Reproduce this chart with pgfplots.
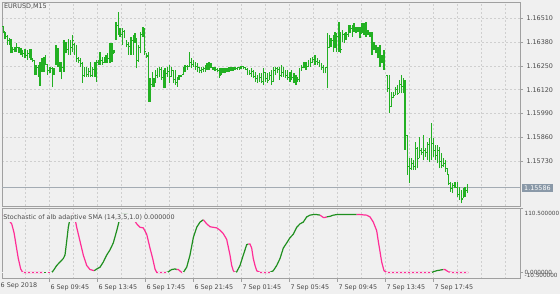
\documentclass[border=0pt]{standalone}
\usepackage{pgfplots}
\pgfplotsset{compat=1.18}
\usepackage{pgfplotstable}
\usepackage{fontspec}
\setmainfont{DejaVu Sans}
\definecolor{bg}{HTML}{F0F0F0}
\definecolor{gridc}{HTML}{CFCFCF}
\definecolor{framec}{HTML}{A0A0A0}
\definecolor{barc}{HTML}{22B022}
\definecolor{upc}{HTML}{1F8F1F}
\definecolor{dnc}{HTML}{FF2D96}
\definecolor{pricebox}{HTML}{8A99A8}
\definecolor{pricel}{HTML}{A3ABB3}
\definecolor{txt}{HTML}{4A4A4A}

\pgfdeclareplotmark{ohlcopen}{\pgfpathmoveto{\pgfqpoint{-1.1pt}{0pt}}\pgfpathlineto{\pgfqpoint{0pt}{0pt}}\pgfusepathqstroke}
\pgfdeclareplotmark{ohlcclose}{\pgfpathmoveto{\pgfqpoint{0pt}{0pt}}\pgfpathlineto{\pgfqpoint{1.1pt}{0pt}}\pgfusepathqstroke}

\pgfplotstableread{
x h l o c
3.3 1.16468 1.16428 1.16468 1.16440
5.0 1.16437 1.16395 1.16437 1.16410
7.3 1.16419 1.16365 1.16410 1.16392
9.3 1.16401 1.16365 1.16392 1.16374
11.0 1.16395 1.16319 1.16374 1.16346
12.7 1.16355 1.16323 1.16346 1.16340
15.0 1.16355 1.16328 1.16340 1.16346
16.7 1.16374 1.16328 1.16346 1.16350
19.0 1.16355 1.16323 1.16350 1.16337
21.0 1.16346 1.16310 1.16337 1.16328
22.7 1.16337 1.16301 1.16328 1.16319
25.0 1.16341 1.16292 1.16319 1.16310
27.3 1.16337 1.16283 1.16310 1.16319
29.3 1.16341 1.16292 1.16319 1.16305
31.0 1.16341 1.16283 1.16305 1.16290
32.7 1.16292 1.16274 1.16290 1.16280
34.3 1.16283 1.16201 1.16280 1.16219
36.0 1.16256 1.16201 1.16219 1.16240
38.3 1.16256 1.16192 1.16240 1.16210
40.0 1.16274 1.16141 1.16210 1.16250
42.0 1.16292 1.16219 1.16250 1.16270
44.0 1.16301 1.16219 1.16270 1.16285
45.7 1.16310 1.16256 1.16285 1.16260
47.7 1.16256 1.16201 1.16256 1.16225
50.0 1.16246 1.16210 1.16225 1.16235
52.3 1.16246 1.16134 1.16235 1.16210
54.0 1.16237 1.16201 1.16210 1.16225
56.0 1.16365 1.16256 1.16256 1.16340
58.0 1.16346 1.16246 1.16340 1.16300
60.0 1.16274 1.16219 1.16270 1.16230
61.7 1.16274 1.16177 1.16230 1.16240
64.0 1.16392 1.16219 1.16240 1.16370
66.0 1.16383 1.16319 1.16370 1.16340
68.3 1.16395 1.16310 1.16340 1.16380
70.7 1.16392 1.16310 1.16380 1.16350
72.7 1.16419 1.16328 1.16350 1.16390
74.3 1.16374 1.16310 1.16370 1.16340
76.7 1.16365 1.16274 1.16340 1.16290
78.7 1.16301 1.16265 1.16290 1.16280
80.7 1.16292 1.16246 1.16280 1.16265
82.3 1.16274 1.16159 1.16265 1.16200
84.3 1.16246 1.16192 1.16200 1.16225
86.7 1.16246 1.16192 1.16225 1.16205
88.7 1.16237 1.16192 1.16205 1.16220
90.7 1.16274 1.16192 1.16220 1.16200
92.7 1.16246 1.16192 1.16200 1.16230
95.0 1.16274 1.16192 1.16230 1.16210
96.7 1.16283 1.16165 1.16210 1.16270
98.3 1.16283 1.16256 1.16270 1.16265
100.0 1.16328 1.16256 1.16265 1.16280
102.3 1.16301 1.16256 1.16280 1.16270
104.3 1.16301 1.16265 1.16270 1.16285
106.0 1.16310 1.16265 1.16285 1.16275
107.7 1.16319 1.16265 1.16275 1.16290
110.0 1.16374 1.16265 1.16290 1.16340
112.0 1.16374 1.16274 1.16340 1.16300
114.0 1.16337 1.16319 1.16320 1.16330
116.0 1.16492 1.16392 1.16400 1.16470
118.3 1.16546 1.16419 1.16470 1.16450
120.0 1.16455 1.16410 1.16450 1.16420
122.3 1.16455 1.16365 1.16420 1.16440
124.3 1.16446 1.16401 1.16440 1.16410
126.7 1.16392 1.16355 1.16390 1.16370
128.7 1.16383 1.16310 1.16370 1.16355
131.0 1.16410 1.16310 1.16355 1.16390
133.3 1.16419 1.16310 1.16390 1.16400
135.0 1.16428 1.16374 1.16400 1.16410
136.7 1.16401 1.16237 1.16400 1.16280
138.7 1.16365 1.16274 1.16280 1.16350
140.7 1.16437 1.16319 1.16350 1.16420
143.0 1.16465 1.16410 1.16420 1.16440
144.7 1.16455 1.16310 1.16440 1.16330
146.7 1.16319 1.16292 1.16310 1.16300
148.3 1.16328 1.16056 1.16310 1.16090
150.0 1.16183 1.16056 1.16090 1.16150
152.3 1.16219 1.16137 1.16150 1.16190
154.0 1.16183 1.16137 1.16183 1.16160
155.7 1.16228 1.16156 1.16160 1.16200
157.3 1.16237 1.16183 1.16200 1.16220
159.7 1.16246 1.16192 1.16220 1.16230
161.7 1.16246 1.16174 1.16230 1.16190
163.3 1.16228 1.16128 1.16190 1.16160
165.0 1.16237 1.16128 1.16160 1.16210
167.3 1.16246 1.16192 1.16210 1.16220
169.3 1.16256 1.16156 1.16220 1.16170
171.3 1.16246 1.16192 1.16192 1.16225
173.3 1.16228 1.16156 1.16225 1.16175
175.3 1.16228 1.16146 1.16175 1.16160
177.3 1.16192 1.16137 1.16160 1.16170
179.0 1.16201 1.16174 1.16180 1.16190
181.0 1.16201 1.16192 1.16195 1.16198
183.3 1.16246 1.16201 1.16205 1.16235
185.0 1.16256 1.16219 1.16235 1.16245
187.3 1.16256 1.16228 1.16245 1.16240
189.3 1.16328 1.16246 1.16250 1.16270
191.3 1.16292 1.16237 1.16270 1.16260
193.3 1.16283 1.16246 1.16260 1.16270
195.7 1.16274 1.16228 1.16270 1.16250
197.7 1.16265 1.16219 1.16250 1.16240
199.3 1.16246 1.16210 1.16240 1.16225
201.3 1.16246 1.16210 1.16225 1.16230
203.3 1.16246 1.16219 1.16230 1.16235
205.3 1.16256 1.16219 1.16235 1.16240
207.0 1.16265 1.16228 1.16240 1.16250
209.0 1.16274 1.16228 1.16250 1.16245
211.0 1.16265 1.16237 1.16245 1.16250
213.0 1.16246 1.16228 1.16240 1.16235
215.0 1.16246 1.16225 1.16235 1.16232
217.3 1.16237 1.16219 1.16230 1.16225
219.3 1.16237 1.16183 1.16225 1.16200
221.0 1.16237 1.16201 1.16201 1.16220
223.0 1.16237 1.16210 1.16220 1.16225
225.0 1.16237 1.16210 1.16225 1.16228
227.0 1.16237 1.16219 1.16228 1.16230
229.0 1.16246 1.16219 1.16230 1.16235
231.0 1.16246 1.16225 1.16235 1.16238
233.0 1.16246 1.16225 1.16238 1.16240
235.0 1.16246 1.16228 1.16240 1.16238
237.3 1.16246 1.16228 1.16238 1.16240
239.3 1.16246 1.16228 1.16240 1.16243
241.0 1.16250 1.16232 1.16243 1.16245
243.3 1.16250 1.16232 1.16245 1.16240
245.3 1.16246 1.16228 1.16240 1.16232
247.3 1.16237 1.16201 1.16232 1.16215
249.7 1.16228 1.16201 1.16215 1.16210
251.7 1.16237 1.16192 1.16210 1.16220
253.7 1.16228 1.16183 1.16220 1.16195
255.7 1.16219 1.16165 1.16195 1.16180
257.3 1.16201 1.16156 1.16180 1.16170
259.7 1.16210 1.16165 1.16170 1.16190
261.7 1.16210 1.16156 1.16190 1.16165
263.7 1.16237 1.16146 1.16165 1.16215
265.7 1.16219 1.16165 1.16215 1.16180
267.7 1.16210 1.16156 1.16180 1.16170
269.7 1.16219 1.16174 1.16174 1.16200
271.7 1.16228 1.16146 1.16200 1.16165
273.7 1.16246 1.16165 1.16165 1.16225
275.7 1.16246 1.16201 1.16225 1.16235
277.7 1.16246 1.16210 1.16235 1.16230
279.3 1.16246 1.16174 1.16230 1.16200
281.3 1.16256 1.16192 1.16200 1.16215
283.3 1.16246 1.16192 1.16215 1.16215
285.7 1.16228 1.16183 1.16215 1.16200
287.7 1.16228 1.16174 1.16200 1.16190
290.0 1.16219 1.16165 1.16190 1.16200
291.7 1.16228 1.16174 1.16200 1.16185
294.0 1.16210 1.16156 1.16185 1.16170
296.0 1.16201 1.16146 1.16170 1.16160
297.7 1.16192 1.16165 1.16165 1.16175
299.3 1.16237 1.16165 1.16175 1.16228
301.7 1.16256 1.16228 1.16228 1.16240
304.0 1.16274 1.16237 1.16240 1.16255
306.0 1.16274 1.16228 1.16255 1.16245
308.3 1.16283 1.16246 1.16246 1.16265
310.7 1.16292 1.16246 1.16265 1.16270
312.7 1.16301 1.16265 1.16270 1.16285
315.0 1.16310 1.16256 1.16285 1.16275
317.3 1.16292 1.16256 1.16275 1.16270
319.3 1.16283 1.16246 1.16270 1.16255
321.7 1.16265 1.16228 1.16255 1.16240
323.3 1.16256 1.16210 1.16240 1.16230
325.7 1.16246 1.16210 1.16230 1.16240
327.7 1.16428 1.16128 1.16240 1.16350
329.3 1.16419 1.16346 1.16350 1.16360
331.0 1.16401 1.16355 1.16360 1.16390
333.3 1.16419 1.16328 1.16390 1.16380
335.0 1.16437 1.16346 1.16380 1.16400
336.7 1.16428 1.16328 1.16400 1.16410
339.0 1.16492 1.16328 1.16410 1.16430
340.7 1.16437 1.16319 1.16430 1.16340
342.7 1.16446 1.16383 1.16383 1.16420
344.3 1.16428 1.16374 1.16420 1.16410
346.0 1.16437 1.16392 1.16410 1.16420
348.3 1.16474 1.16410 1.16420 1.16460
350.0 1.16474 1.16428 1.16460 1.16455
352.3 1.16474 1.16410 1.16455 1.16450
354.0 1.16483 1.16437 1.16450 1.16460
356.0 1.16465 1.16428 1.16460 1.16450
358.0 1.16465 1.16437 1.16450 1.16455
360.0 1.16465 1.16401 1.16455 1.16420
362.0 1.16483 1.16428 1.16428 1.16460
364.0 1.16483 1.16419 1.16460 1.16450
366.0 1.16492 1.16410 1.16450 1.16440
368.0 1.16446 1.16419 1.16440 1.16430
370.0 1.16437 1.16410 1.16430 1.16420
372.0 1.16437 1.16310 1.16420 1.16330
374.0 1.16383 1.16337 1.16340 1.16360
376.0 1.16365 1.16319 1.16360 1.16330
378.0 1.16355 1.16292 1.16330 1.16310
380.0 1.16365 1.16246 1.16310 1.16280
382.0 1.16310 1.16265 1.16280 1.16300
384.0 1.16337 1.16228 1.16300 1.16240
387.3 1.16201 1.16110 1.16200 1.16130
389.3 1.16201 1.15992 1.16130 1.16030
391.3 1.16110 1.16028 1.16030 1.16050
393.3 1.16110 1.16074 1.16080 1.16090
395.3 1.16137 1.16092 1.16092 1.16120
397.3 1.16146 1.16092 1.16120 1.16100
399.3 1.16174 1.16101 1.16101 1.16150
401.3 1.16201 1.16101 1.16150 1.16140
403.3 1.16183 1.16101 1.16140 1.16170
405.0 1.16174 1.15792 1.16170 1.15870
407.3 1.15874 1.15656 1.15870 1.15700
409.3 1.15746 1.15610 1.15700 1.15640
411.3 1.15746 1.15683 1.15690 1.15720
413.3 1.15737 1.15683 1.15720 1.15700
415.3 1.15837 1.15683 1.15700 1.15800
417.3 1.15810 1.15692 1.15800 1.15720
419.3 1.15865 1.15746 1.15746 1.15820
421.3 1.15801 1.15765 1.15790 1.15780
423.3 1.15874 1.15737 1.15780 1.15830
425.3 1.15801 1.15756 1.15790 1.15780
427.3 1.15837 1.15737 1.15780 1.15820
429.3 1.15856 1.15728 1.15820 1.15760
431.7 1.15937 1.15737 1.15760 1.15830
433.3 1.15856 1.15756 1.15830 1.15790
435.3 1.15819 1.15737 1.15790 1.15760
437.3 1.15819 1.15719 1.15760 1.15790
439.3 1.15810 1.15692 1.15790 1.15730
441.3 1.15774 1.15692 1.15730 1.15710
443.3 1.15746 1.15701 1.15710 1.15720
445.3 1.15737 1.15674 1.15720 1.15690
447.3 1.15692 1.15656 1.15690 1.15660
448.7 1.15656 1.15601 1.15656 1.15610
450.7 1.15619 1.15565 1.15610 1.15580
452.7 1.15610 1.15556 1.15580 1.15600
455.0 1.15619 1.15583 1.15600 1.15590
457.3 1.15619 1.15537 1.15590 1.15550
459.3 1.15592 1.15519 1.15550 1.15540
461.7 1.15574 1.15501 1.15540 1.15520
463.3 1.15583 1.15528 1.15528 1.15560
465.0 1.15592 1.15537 1.15560 1.15570
467.3 1.15606 1.15556 1.15570 1.15586
}\bars

\begin{document}
\begin{tikzpicture}[font=\fontsize{6.4}{7.5}\selectfont]
\fill[bg] (0,0) rectangle (560pt,-294pt);
\useasboundingbox (0,0) rectangle (560pt,-294pt);

\begin{axis}[name=main, at={(2pt,-2pt)}, anchor=north west, scale only axis,
  width=518pt, height=204pt, xmin=2, xmax=520, ymin=1.154862, ymax=1.165989,
  clip=false,
  xtick={25,49,73,97,121,145,169,193,217,241,265,289,313,337,361,385,409,433,457,481,505},
  xticklabels={}, xtick style={draw=none},
  ytick={1.1573,1.1586,1.1599,1.1612,1.1625,1.1638,1.1651},
  yticklabels={1.15730,1.15860,1.15990,1.16120,1.16250,1.16380,1.16510},
  ytick pos=right, yticklabel pos=right,
  tick align=outside, major tick length=3pt,
  ytick style={color=framec, line width=0.6pt},
  grid=major, grid style={color=gridc, dash pattern=on 2pt off 2pt, line width=0.6pt},
  axis line style={color=framec, line width=0.9pt},
  tick label style={text=txt, font=\fontsize{6.4}{7.5}\selectfont},
  /pgf/number format/assume math mode=true,
]
\addplot[color=pricel, line width=0.8pt] coordinates {(2,1.15586) (520,1.15586)};
\addplot[draw=barc, line width=1.1pt, quiver={u=0, v=\thisrow{h}-\thisrow{l}}]
  table[x=x, y=l] {\bars};
\addplot[color=barc, only marks, mark=ohlcopen, mark options={color=barc, line width=0.8pt}]
  table[x=x, y=o] {\bars};
\addplot[color=barc, only marks, mark=ohlcclose, mark options={color=barc, line width=0.8pt}]
  table[x=x, y=c] {\bars};
\node[anchor=north west, inner sep=1pt, text=txt] at (rel axis cs:0,1) [xshift=1pt, yshift=-1pt] {EURUSD,M15};
\node[anchor=west, fill=pricebox, text=white, inner xsep=2pt, inner ysep=1.6pt] at (axis cs:520,1.15586) [xshift=2pt] {1.15586};
\end{axis}

\begin{axis}[name=low, at={(2pt,-208.5pt)}, anchor=north west, scale only axis,
  width=518pt, height=70pt, xmin=2, xmax=520, ymin=-10.5, ymax=110.5,
  clip=false,
  xtick={49,97,145,193,241,289,337,385,433},
  xticklabels={6 Sep 09:45,6 Sep 13:45,6 Sep 17:45,6 Sep 21:45,7 Sep 01:45,7 Sep 05:45,7 Sep 09:45,7 Sep 13:45,7 Sep 17:45},
  minor xtick={25,73,121,169,217,265,313,361,409,457,481,505},
  xticklabel style={anchor=north west, xshift=-2pt},
  xtick pos=left, ytick pos=right,
  ytick={0,110.5}, yticklabels={},
  tick align=outside, major tick length=3pt, minor tick length=0pt,
  tick style={color=framec, line width=0.6pt},
  xmajorgrids=true, xminorgrids=true, ymajorgrids=true,
  major grid style={color=gridc, dash pattern=on 2pt off 2pt, line width=0.6pt},
  minor grid style={color=gridc, dash pattern=on 2pt off 2pt, line width=0.6pt},
  axis line style={color=framec, line width=0.9pt},
  tick label style={text=txt, font=\fontsize{6.4}{7.5}\selectfont},
  /pgf/number format/assume math mode=true,
]
\addplot[color=dnc, line width=1.2pt] coordinates {(3,100) (7.3,93) (11.7,84) (14,69) (16,48) (18.3,24) (20.7,6) (22.7,0) (43.3,0)};
\addplot[color=upc, line width=1.2pt] coordinates {(43.3,0) (46.7,0)};
\addplot[color=dnc, line width=1.2pt] coordinates {(46.7,0) (51.7,0)};
\addplot[color=upc, line width=1.2pt] coordinates {(51.7,0) (53.3,3) (56.7,12) (60,18) (63.3,24) (65,30) (66.7,54) (68.3,78) (70,93) (71.7,100)};
\addplot[color=dnc, line width=1.2pt] coordinates {(71.7,100) (73.3,100) (75,93) (76.7,78) (80,54) (83.3,30) (86.7,12) (90,5) (94.3,3)};
\addplot[color=upc, line width=1.2pt] coordinates {(94.3,3) (96.7,6) (100,9) (103.3,18) (106.7,30) (110,39) (113.3,51) (116.7,72) (119.3,90) (120.7,96) (122,100) (128,100)};
\addplot[color=dnc, line width=1.2pt] coordinates {(128,100) (130,99) (133.3,93) (136.7,84) (140,78) (143.3,77) (146.7,66) (150,42) (152.7,24) (155,6) (156.7,0) (166.7,0)};
\addplot[color=upc, line width=1.2pt] coordinates {(166.7,0) (168.3,1) (171.7,5) (175,6) (176.7,5)};
\addplot[color=dnc, line width=1.2pt] coordinates {(176.7,5) (178.3,5) (181.7,0) (183.3,0)};
\addplot[color=upc, line width=1.2pt] coordinates {(183.3,0) (186.7,9) (190,30) (193.3,60) (196.7,78) (200,87) (203.3,91)};
\addplot[color=dnc, line width=1.2pt] coordinates {(203.3,91) (206.7,84) (210,79) (213.3,78) (216.7,77) (220,73) (223.3,67) (226.7,57) (230,30) (231.7,12) (233.3,3) (235,0)};
\addplot[color=upc, line width=1.2pt] coordinates {(235,0) (236.7,1) (240,12) (243.3,30) (246.7,48) (248.3,49)};
\addplot[color=dnc, line width=1.2pt] coordinates {(248.3,49) (250,49) (251.7,42) (253.3,24) (255,12) (256.7,3) (260,0) (270,0)};
\addplot[color=upc, line width=1.2pt] coordinates {(270,0) (273.3,3) (276.7,12) (280,24) (283.3,42) (286.7,51) (290,60) (293.3,66) (296.7,78) (300,84) (303.3,87) (306.7,96) (310,99) (313.3,100) (316.7,100) (320,99)};
\addplot[color=dnc, line width=1.2pt] coordinates {(320,99) (321.7,97) (323.3,95) (325,95) (326.7,96)};
\addplot[color=upc, line width=1.2pt] coordinates {(326.7,96) (330,97) (333.3,99) (336.7,100) (356.7,100)};
\addplot[color=dnc, line width=1.2pt] coordinates {(356.7,100) (360,100) (366.7,99) (370,96) (373.3,87) (376.7,72) (378.3,54) (380,36) (381.7,18) (384,3) (386.7,0) (431.7,0)};
\addplot[color=upc, line width=1.2pt] coordinates {(431.7,0) (433.3,1) (436.7,3) (440,4) (443.3,5)};
\addplot[color=dnc, line width=1.2pt] coordinates {(443.3,5) (445,5) (448.3,1) (451.7,0) (468.3,0)};
\addplot[color=bg, dash pattern=on 2pt off 2pt, line width=0.5pt] coordinates {(2,0) (520,0)};
\node[anchor=north west, fill=bg, inner sep=0.6pt, text=txt] at (rel axis cs:0,1) [xshift=0.5pt, yshift=-5.5pt] {Stochastic of alb adaptive SMA (14,3,5,1.0) 0.000000};
\node[anchor=north west, inner sep=0pt, text=txt] at (rel axis cs:0,0) [xshift=-1.5pt, yshift=-4.5pt] {6 Sep 2018};
\node[anchor=west, inner sep=0pt, text=txt, font=\fontsize{5.7}{7}\selectfont] at (rel axis cs:1,1) [xshift=4.5pt, yshift=-5pt] {110.500000};
\node[anchor=west, inner sep=0pt, text=txt, font=\fontsize{5.7}{7}\selectfont] at (axis cs:520,0) [xshift=4.5pt, yshift=0.5pt] {0.000000};
\node[anchor=west, inner sep=0pt, text=txt, font=\fontsize{5.7}{7}\selectfont] at (axis cs:520,0) [xshift=4.5pt, yshift=-2.5pt] {-10.500000};
\end{axis}
\end{tikzpicture}
\end{document}
